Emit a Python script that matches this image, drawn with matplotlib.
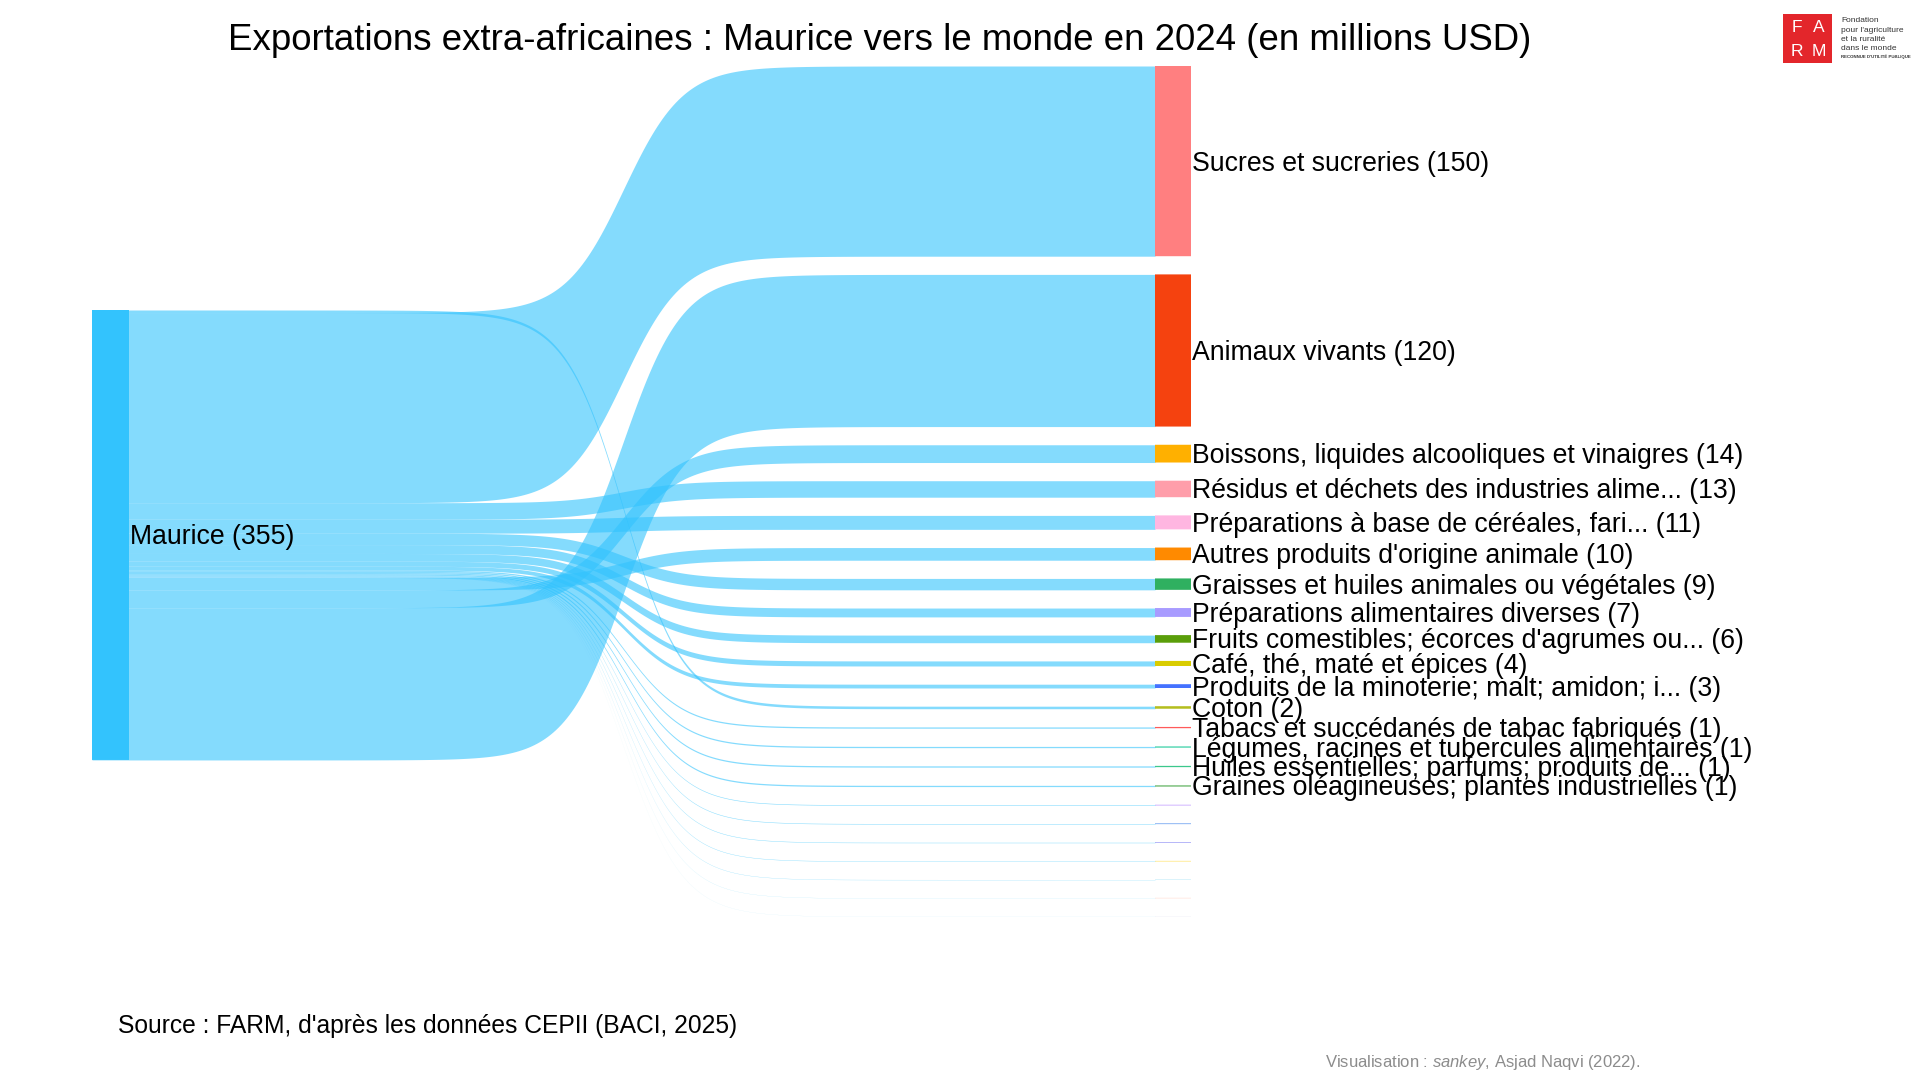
import numpy as np
import matplotlib
matplotlib.use("Agg")
import matplotlib.pyplot as plt
from matplotlib.patches import Rectangle

plt.rcParams['font.family'] = ['Liberation Sans', 'DejaVu Sans']
plt.rcParams['mathtext.fontset'] = 'custom'
plt.rcParams['mathtext.rm'] = 'Liberation Sans'
plt.rcParams['mathtext.it'] = 'Liberation Sans:italic'

# ---------------- data ----------------
source_name = "Maurice"
targets = [
    "Sucres et sucreries",
    "Animaux vivants",
    "Boissons, liquides alcooliques et vinaigres",
    "Résidus et déchets des industries alime...",
    "Préparations à base de céréales, fari...",
    "Autres produits d'origine animale",
    "Graisses et huiles animales ou végétales",
    "Préparations alimentaires diverses",
    "Fruits comestibles; écorces d'agrumes ou...",
    "Café, thé, maté et épices",
    "Produits de la minoterie; malt; amidon; i...",
    "Coton",
    "Tabacs et succédanés de tabac fabriqués",
    "Légumes, racines et tubercules alimentaires",
    "Huiles essentielles; parfums; produits de...",
    "Graines oléagineuses; plantes industrielles",
    "Autre produit 1", "Autre produit 2", "Autre produit 3", "Autre produit 4",
    "Autre produit 5", "Autre produit 6", "Autre produit 7",
]
values = [150, 120, 14, 13, 11, 10, 9, 7, 6, 4, 3, 2, 1, 1, 1, 1,
          0.45, 0.4, 0.35, 0.3, 0.2, 0.1, 0.05]
target_colors = [
    "#FF7F80", "#F5420F", "#FFB000", "#FF9EAA", "#FFB6E1", "#FF8A00",
    "#2FB060", "#A89BFF", "#5A9E0A", "#D9CC00", "#4472FF", "#B4BE1E",
    "#FF5A5A", "#3CD2A8", "#3CC88C", "#64B464",
    "#B080FF", "#2070E8", "#6060F0", "#FFD000", "#70D0F0", "#FF6030", "#A0A0D0",
]
# stacking order of the flows on the source node (top -> bottom)
source_order = ["Coton", "Sucres et sucreries",
                "Résidus et déchets des industries alime...",
                "Préparations à base de céréales, fari...",
                "Graisses et huiles animales ou végétales",
                "Préparations alimentaires diverses",
                "Fruits comestibles; écorces d'agrumes ou...",
                "Café, thé, maté et épices",
                "Produits de la minoterie; malt; amidon; i...",
                "Tabacs et succédanés de tabac fabriqués",
                "Légumes, racines et tubercules alimentaires",
                "Huiles essentielles; parfums; produits de...",
                "Graines oléagineuses; plantes industrielles",
                "Autre produit 1", "Autre produit 2", "Autre produit 3", "Autre produit 4",
                "Autre produit 5", "Autre produit 6", "Autre produit 7",
                "Autres produits d'origine animale",
                "Boissons, liquides alcooliques et vinaigres",
                "Animaux vivants"]

title = "Exportations extra-africaines : Maurice vers le monde en 2024 (en millions USD)"
source_note = "Source : FARM, d'après les données CEPII (BACI, 2025)"
credit = r"Visualisation : $\it{sankey}$, Asjad Naqvi (2022)."

# ---------------- layout (pixels) ----------------
W, H = 1920, 1080
scale = 1.268       # px per million USD
gap = 18.2
left_top = 310
right_top = 66
xL0, xL1 = 92, 129
xR0, xR1 = 1155, 1191
flow_color = "#33C3FD"
k = 36.0
lab_fs = 19.2
lab_dy = 2.5

fig = plt.figure(figsize=(W / 100, H / 100), dpi=100)
ax = fig.add_axes([0, 0, 1, 1])
ax.set_xlim(0, W)
ax.set_ylim(H, 0)
ax.axis("off")

vals = dict(zip(targets, values))
cols = dict(zip(targets, target_colors))
total = sum(values)

# right node positions
right_pos = {}
y = right_top
for t in targets:
    h = vals[t] * scale
    right_pos[t] = (y, y + h)
    y += h + gap

# left flow positions
left_pos = {}
y = left_top
for t in source_order:
    h = vals[t] * scale
    left_pos[t] = (y, y + h)
    y += h

xs = np.linspace(xL0, xR0, 400)
tt = (xs - xL0) / (xR0 - xL0)
s = 1 / (1 + np.exp(-k * (tt - 0.5)))
s = (s - s[0]) / (s[-1] - s[0])

for t in source_order:
    (a0, a1) = left_pos[t]
    (b0, b1) = right_pos[t]
    top = a0 + (b0 - a0) * s
    bot = a1 + (b1 - a1) * s
    ax.fill_between(xs, top, bot, color=flow_color, alpha=0.6, lw=0, zorder=1)

# nodes
ax.add_patch(Rectangle((xL0, left_top), xL1 - xL0, total * scale,
                       color=flow_color, lw=0, zorder=3, snap=False))
ax.text(xL1 + 1, left_top + total * scale / 2 + lab_dy, f"{source_name} ({round(total)})",
        fontsize=lab_fs, va="center", ha="left", zorder=5)

for t in targets:
    y0, y1 = right_pos[t]
    ax.add_patch(Rectangle((xR0, y0), xR1 - xR0, max(y1 - y0, 0.0),
                           color=cols[t], lw=0, zorder=3, snap=False))
    if round(vals[t]) >= 1:
        ax.text(xR1 + 1, (y0 + y1) / 2 + lab_dy, f"{t} ({round(vals[t])})",
                fontsize=lab_fs, va="center", ha="left", zorder=5)

# titles / notes
ax.text(880, 40.5, title, fontsize=26.4, ha="center", va="center")
ax.text(118, 1026.5, source_note, fontsize=17.7, ha="left", va="center")
ax.text(1325, 1062, credit, fontsize=12.0, color="#8C8C8C", ha="left", va="center")

# logo
ax.add_patch(Rectangle((1783, 14), 49, 49, color="#E3262B", lw=0))
for lx, ly, ch in [(1797, 27, "F"), (1819, 27, "A"), (1797, 51, "R"), (1819, 51, "M")]:
    ax.text(lx, ly, ch, fontsize=12.5, color="white", ha="center", va="center")
for yy, txt in zip([21, 30.5, 39.5, 48.5], ["Fondation", "pour l'agriculture",
                                           "et la ruralité", "dans le monde"]):
    ax.text(1841, yy, txt, fontsize=6, color="#333333", ha="left", va="center")
ax.text(1841, 57, "RECONNUE D'UTILITÉ PUBLIQUE", fontsize=3.2, color="#333333",
        ha="left", va="center", weight="bold")

fig.savefig("out.png", dpi=100)
